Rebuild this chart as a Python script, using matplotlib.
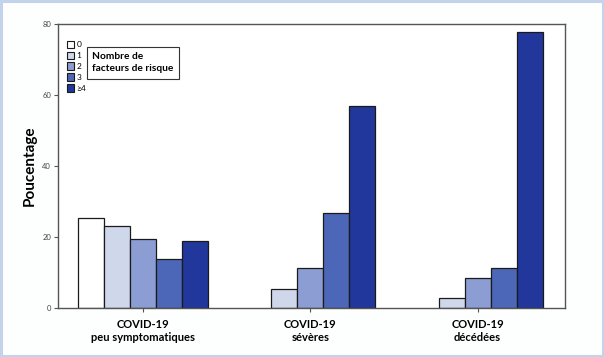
import matplotlib.pyplot as plt
import matplotlib.patches as patches
import numpy as np

# Data
groups = ["COVID-19\npeu symptomatiques", "COVID-19\nsévères", "COVID-19\ndécédées"]
risk_labels = ["0", "1", "2", "3", "≥4"]
risk_0 = [25.3, 0, 0]
risk_1 = [23.0, 5.3, 2.9]
risk_2 = [19.4, 11.2, 8.5]
risk_3 = [13.7, 26.8, 11.2]
risk_4 = [18.8, 56.8, 77.8]
series = [risk_0, risk_1, risk_2, risk_3, risk_4]
colors = ["#ffffff", "#cfd7eb", "#8c9dd3", "#4c67b7", "#22379b"]

plt.rcParams["font.family"] = ["Lato", "DejaVu Sans"]

fig = plt.figure(figsize=(6.04, 3.57), dpi=100)
fig.patch.set_facecolor("#fdfefe")
fig.add_artist(patches.Rectangle((0.002, 0.003), 0.996, 0.994, transform=fig.transFigure,
                                 facecolor="none", edgecolor="#c3d3ea", lw=2.2))

ax = fig.add_axes([0.096, 0.137, 0.839, 0.796])
ax.set_facecolor("white")

x = np.arange(len(groups))
width = 0.155
handles = []
for i, (vals, col) in enumerate(zip(series, colors)):
    offs = (i - 2) * width
    bars = ax.bar(x + offs, vals, width, color=col, edgecolor="#1a1a1a", lw=0.9,
                  label=risk_labels[i])
    for b, v in zip(bars, vals):
        if v == 0:
            b.set_visible(False)
    handles.append(patches.Patch(facecolor=col, edgecolor="#1a1a1a", lw=0.8))

ax.set_xlim(-0.507, 2.52)
ax.set_ylim(0, 80)
ax.set_yticks([0, 20, 40, 60, 80])
ax.tick_params(axis="y", labelsize=5.5, labelcolor="#444444", length=3, width=0.8,
               color="#555555", pad=2)
ax.set_xticks(x)
ax.set_xticklabels(groups, fontsize=8, fontweight="bold")
ax.tick_params(axis="x", length=3, width=0.8, color="#555555", pad=5)
for sp in ax.spines.values():
    sp.set_linewidth(1.0)
    sp.set_color("#555555")

ax.set_ylabel("Poucentage", fontsize=11, fontweight="bold", labelpad=4)

leg = ax.legend(handles, risk_labels, loc="upper left", bbox_to_anchor=(0.006, 0.962),
                frameon=False, fontsize=6, handlelength=0.85, handleheight=0.95,
                handletextpad=0.3, labelspacing=0.42, borderaxespad=0.3)

ax.text(0.068, 0.9, "Nombre de\nfacteurs de risque", transform=ax.transAxes,
        fontsize=7.3, fontweight="bold", va="top", ha="left", linespacing=1.45,
        bbox=dict(boxstyle="square,pad=0.55", facecolor="white", edgecolor="#333333", lw=0.8))

fig.savefig("out.png", dpi=100)
